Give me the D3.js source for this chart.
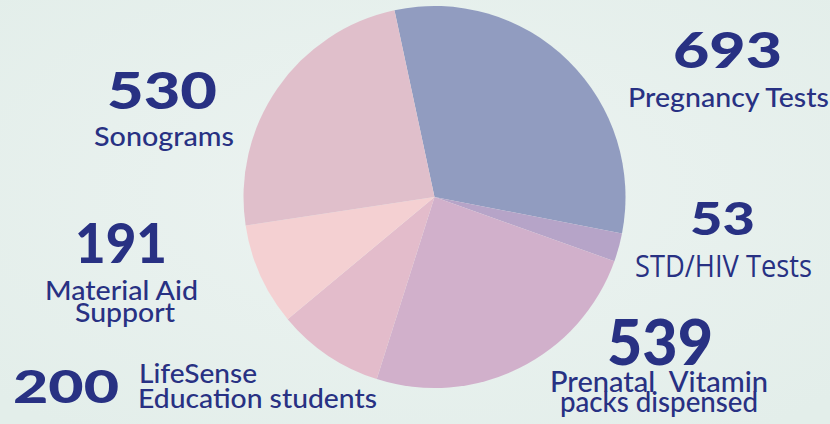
<!DOCTYPE html>
<html><head><meta charset="utf-8">
<script src="https://cdn.jsdelivr.net/npm/d3@7"></script>
<style>html,body{margin:0;padding:0;background:#e7f0ed;}svg{display:block;}</style>
</head><body>
<svg id="c" width="830" height="424"></svg>
<script>
const categories = ["Pregnancy Tests","STD/HIV Tests","Prenatal Vitamin packs dispensed","LifeSense Education students","Material Aid Support","Sonograms"];
const values = [693, 53, 539, 200, 191, 530];
const valueLabels = ["693","53","539","200","191","530"];
const sliceColors = ["#919cc0","#b6a4c8","#d1b0cb","#e3bccb","#f4d0d2","#e0bfcb"];

// label layout (per category): number box and text lines
const layout = [
  {num:{x:673,y:68,w:109,s:50}, lines:[{t:"Pregnancy Tests",x:628,y:107,w:201,s:26}]},
  {num:{x:690,y:235,w:65,s:45}, lines:[{t:"STD/HIV Tests",x:635,y:277,w:177,s:31,f:"'Open Sans'"}]},
  {num:{x:607,y:365,w:106,s:62}, lines:[{t:"Prenatal  Vitamin",x:550,y:392,w:218,s:29},{t:"packs dispensed",x:560,y:412,w:198,s:29}]},
  {num:{x:13,y:403,w:106,s:46}, lines:[{t:"LifeSense",x:139,y:383,w:118,s:27},{t:"Education students",x:138,y:408,w:239,s:27}]},
  {num:{x:75,y:263,w:92,s:55}, lines:[{t:"Material Aid",x:45,y:300,w:153,s:27},{t:"Support",x:75,y:322,w:100,s:27}]},
  {num:{x:107,y:109,w:110,s:52}, lines:[{t:"Sonograms",x:94,y:146,w:140,s:26}]}
];

const svg = d3.select("#c");
const W = 830, H = 424;
const defs = svg.append("defs");
const g1 = defs.append("radialGradient").attr("id","bg").attr("cx","50%").attr("cy","45%").attr("r","70%");
g1.append("stop").attr("offset","0%").attr("stop-color","#ecf3f1");
g1.append("stop").attr("offset","100%").attr("stop-color","#e3eeea");
svg.append("rect").attr("width",W).attr("height",H).attr("fill","url(#bg)");

const cx = 434.5, cy = 197, R = 191;
const pie = d3.pie().sort(null).value(d => d).startAngle(-12.1*Math.PI/180).endAngle((360-12.1)*Math.PI/180);
const arc = d3.arc().innerRadius(0).outerRadius(R);
svg.append("g").attr("transform",`translate(${cx},${cy})`)
  .selectAll("path").data(pie(values)).join("path")
  .attr("d", arc).attr("fill",(d,i)=>sliceColors[i]);

const ink = "#283183";
const tg = svg.append("g").attr("fill", ink);
layout.forEach((L,i) => {
  tg.append("text").attr("x",L.num.x).attr("y",L.num.y)
    .attr("font-family","Lato, 'Noto Sans', sans-serif").attr("font-weight",900)
    .attr("font-size",L.num.s).attr("textLength",L.num.w).attr("lengthAdjust","spacingAndGlyphs")
    .text(valueLabels[i]);
  L.lines.forEach(ln => {
    tg.append("text").attr("x",ln.x).attr("y",ln.y)
      .attr("font-family",(ln.f||"Lato")+", 'Noto Sans', sans-serif").attr("font-weight",500)
      .attr("font-size",ln.s).attr("textLength",ln.w).attr("lengthAdjust","spacingAndGlyphs")
      .attr("xml:space","preserve")
      .text(ln.t);
  });
});
</script>
</body></html>
